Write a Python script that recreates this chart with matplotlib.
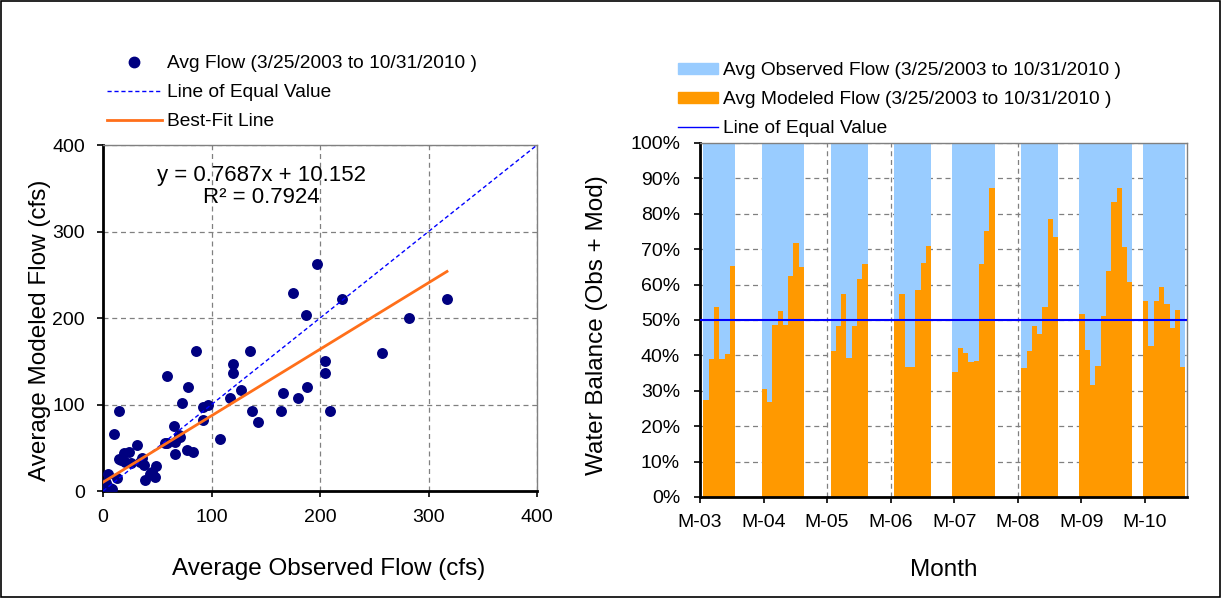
import numpy as np
import matplotlib
matplotlib.use("Agg")
import matplotlib.pyplot as plt
from matplotlib.lines import Line2D
from matplotlib.patches import Patch, Rectangle

plt.rcParams['font.family'] = ['Liberation Sans', 'DejaVu Sans']

# ---- scatter: monthly average flow (cfs) ----
obs_flow = [197, 175, 187, 86, 135, 120, 120, 59, 78, 127,
            166, 188, 180, 117, 73, 92, 97, 15, 137, 164,
            92, 143, 65, 10, 108, 70, 59, 66, 77, 83,
            66, 31, 24, 19, 15, 20, 34, 38, 49, 45,
            48, 39, 5, 13, 0, 8, 0, 3, 26, 220,
            317, 282, 257, 205, 205, 209, 17, 43, 71, 57,
            36, 6]
mod_flow = [262, 229, 204, 162, 162, 147, 137, 133, 120, 117,
            113, 120, 107, 107, 102, 97, 100, 93, 93, 93,
            82, 80, 75, 66, 60, 65, 55, 57, 47, 45,
            43, 53, 45, 44, 37, 34, 33, 30, 29, 22,
            16, 13, 20, 15, 3, 2, 0, 9, 32, 222,
            222, 200, 160, 150, 137, 93, 36, 20, 63, 55,
            38, 3]
fit_slope = 0.7687
fit_icept = 10.152
fit_r2 = 0.7924

# ---- water balance: modeled share of (obs + mod), % ----
months = ["2003-04", "2003-05", "2003-06", "2003-07", "2003-08", "2003-09",
          "2004-03", "2004-04", "2004-05", "2004-06", "2004-07", "2004-08", "2004-09", "2004-10",
          "2005-04", "2005-05", "2005-06", "2005-07", "2005-08", "2005-09", "2005-10",
          "2006-04", "2006-05", "2006-06", "2006-07", "2006-08", "2006-09", "2006-10",
          "2007-03", "2007-04", "2007-05", "2007-06", "2007-07", "2007-08", "2007-09", "2007-10",
          "2008-04", "2008-05", "2008-06", "2008-07", "2008-08", "2008-09", "2008-10",
          "2009-03", "2009-04", "2009-05", "2009-06", "2009-07", "2009-08", "2009-09", "2009-10",
          "2009-11", "2009-12",
          "2010-03", "2010-04", "2010-05", "2010-06", "2010-07", "2010-08", "2010-09", "2010-10"]
mod_share = [27.5, 39, 53.7, 39, 40.3, 65.3,
             30.6, 26.8, 48.7, 52.4, 48.7, 62.5, 71.8, 64.9,
             41.1, 48.4, 57.3, 39.4, 48.4, 61.6, 65.7,
             50.3, 57.3, 36.8, 36.8, 58.5, 66.1, 71,
             35.4, 42.1, 40.8, 38.1, 38.5, 65.8, 75, 87.4,
             36.3, 41.1, 48.4, 46.1, 53.7, 78.6, 73.4,
             51.8, 41.6, 31.5, 37.1, 51, 63.8, 83.4, 87.4,
             70.6, 60.7,
             55.5, 42.7, 55.5, 59.4, 54.6, 47.8, 52.7, 36.8]
year_ticks = ["M-03", "M-04", "M-05", "M-06", "M-07", "M-08", "M-09", "M-10"]

fig = plt.figure(figsize=(12.22, 5.98), dpi=100)

grid_kw = dict(color='#808080', linestyle=(0, (4, 3)), linewidth=0.9)

# ================= left: scatter =================
ax1 = fig.add_axes([0.0843, 0.1789, 0.3552, 0.5786])
ax1.set_axisbelow(True)
ax1.grid(True, **grid_kw)
ax1.scatter(obs_flow, mod_flow, s=62, color='#000080', linewidths=0, zorder=3)
ax1.plot([0, 400], [0, 400], color='#0000FF', linestyle=(0, (3, 2)), lw=1, zorder=4)
xf = np.array([min(obs_flow), max(obs_flow)])
ax1.plot(xf, fit_slope * xf + fit_icept, color='#FF6F1A', lw=2, zorder=5)
ax1.set_xlim(0, 400)
ax1.set_ylim(0, 400)
ax1.set_xticks(range(0, 401, 100))
ax1.set_yticks(range(0, 401, 100))
ax1.tick_params(labelsize=14, direction='out', length=4.3, width=1.2, pad=8.6)
ax1.set_xlabel("Average Observed Flow (cfs)", fontsize=17.5, labelpad=23)
ax1.set_ylabel("Average Modeled Flow (cfs)", fontsize=17.5, labelpad=1)
ax1.xaxis.label.set_x(0.52)
ax1.yaxis.label.set_y(0.465)
ax1.text(0.365, 0.88, "y = %.4fx + %.3f\nR² = %.4f" % (fit_slope, fit_icept, fit_r2),
         transform=ax1.transAxes, ha='center', va='center', fontsize=16,
         multialignment='center', linespacing=1.1)
for s in ['left', 'bottom']:
    ax1.spines[s].set_linewidth(2)
for s in ['top', 'right']:
    ax1.spines[s].set_color('#808080')
    ax1.spines[s].set_linewidth(1)

h1 = [Line2D([], [], marker='o', color='#000080', linestyle='none', markersize=7.5),
      Line2D([], [], color='#0000FF', linestyle=(0, (3, 2)), lw=1),
      Line2D([], [], color='#FF6F1A', lw=2)]
l1 = ["Avg Flow (3/25/2003 to 10/31/2010 )", "Line of Equal Value", "Best-Fit Line"]
fig.legend(h1, l1, loc='upper left', bbox_to_anchor=(0.0875, 0.908), frameon=False,
           fontsize=13.8, handlelength=2.85, handletextpad=0.3, labelspacing=0.6,
           borderpad=0, borderaxespad=0)

# ================= right: water balance =================
idx = np.array([(int(m[:4]) - 2003) * 12 + int(m[5:]) - 3 for m in months])
share = np.array(mod_share)
ax2 = fig.add_axes([0.5728, 0.1689, 0.3988, 0.592])
ax2.set_axisbelow(True)
ax2.grid(True, **grid_kw)
ax2.bar(idx - 0.35, share, width=1, align='edge', color='#FF9900', linewidth=0, zorder=2)
ax2.bar(idx - 0.35, 100 - share, bottom=share, width=1, align='edge', color='#99CCFF',
        linewidth=0, zorder=2)
ax2.axhline(50, color='#0000FF', lw=1.5, zorder=4)
ax2.set_xlim(0, 92)
ax2.set_ylim(0, 100)
ax2.set_xticks(range(0, 12 * len(year_ticks), 12))
ax2.set_xticklabels(year_ticks)
ax2.set_yticks(range(0, 101, 10))
ax2.set_yticklabels(["%d%%" % v for v in range(0, 101, 10)])
ax2.tick_params(labelsize=14, direction='out', length=4.3, width=1.2)
ax2.tick_params(axis='y', pad=10)
ax2.tick_params(axis='x', pad=8)
ax2.set_xlabel("Month", fontsize=17.5, labelpad=20)
ax2.set_ylabel("Water Balance (Obs + Mod)", fontsize=17.5, labelpad=16)
ax2.yaxis.label.set_y(0.486)
for s in ['left', 'bottom']:
    ax2.spines[s].set_linewidth(2)
for s in ['top', 'right']:
    ax2.spines[s].set_color('#808080')
    ax2.spines[s].set_linewidth(1)

h2 = [Patch(color='#99CCFF'), Patch(color='#FF9900'),
      Line2D([], [], color='#0000FF', lw=1)]
l2 = ["Avg Observed Flow (3/25/2003 to 10/31/2010 )",
      "Avg Modeled Flow (3/25/2003 to 10/31/2010 )", "Line of Equal Value"]
fig.legend(h2, l2, loc='upper left', bbox_to_anchor=(0.5548, 0.896), frameon=False,
           fontsize=13.8, handlelength=2.1, handleheight=0.5, handletextpad=0.26,
           labelspacing=0.62, borderpad=0, borderaxespad=0)

fig.patches.append(Rectangle((0.001, 0.002), 0.997, 0.996, transform=fig.transFigure,
                             fill=False, edgecolor='black', lw=1.2))

fig.savefig("out.png", dpi=100)
